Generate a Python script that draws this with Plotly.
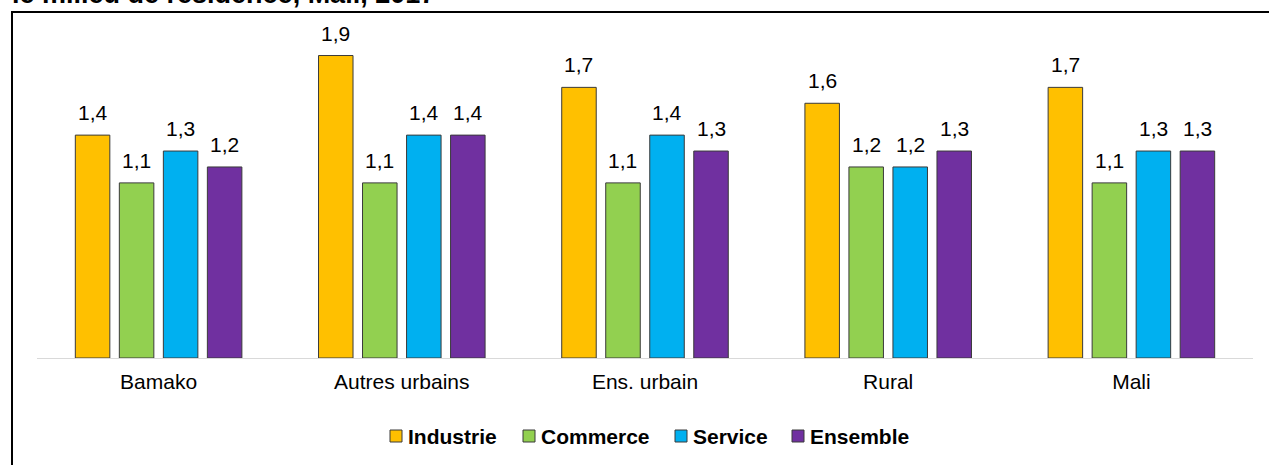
import plotly.graph_objects as go

# Data
categories = ["Bamako", "Autres urbains", "Ens. urbain", "Rural", "Mali"]
series_names = ["Industrie", "Commerce", "Service", "Ensemble"]
industrie = [1.4, 1.9, 1.7, 1.6, 1.7]
commerce = [1.1, 1.1, 1.1, 1.2, 1.1]
service = [1.3, 1.4, 1.4, 1.2, 1.3]
ensemble = [1.2, 1.4, 1.3, 1.3, 1.3]
title_text = "le milieu de résidence, Mali, 2017"

series_values = [industrie, commerce, service, ensemble]
colors = ["#FFC000", "#92D050", "#00B0F0", "#7030A0"]
outline = "#3A3A3A"
FONT = "Liberation Sans, Arial, sans-serif"

# Canvas and plot-area geometry (pixels)
W, H = 1269, 465
L, R, T, B = 37, 1253, 20, 358
PX_PER_UNIT = 159.2
BARGAP = 0.276
GROUPGAP = 0.216


def px_x(p):
    return (p - L) / (R - L)


def px_y(p):
    return (B - p) / (B - T)


fig = go.Figure()
for name, vals, col in zip(series_names, series_values, colors):
    fig.add_trace(go.Bar(
        x=categories, y=vals, name=name,
        marker=dict(color=col, line=dict(color=outline, width=1)),
        showlegend=False, hoverinfo="x+y+name",
    ))

# Value labels above each bar
slot = (R - L) / len(categories) * (1 - BARGAP) / len(series_names)
annotations = []
for i, vals in enumerate(series_values):
    offset = (i - (len(series_names) - 1) / 2) * slot
    for cat, v in zip(categories, vals):
        annotations.append(dict(
            x=cat, y=v, xref="x", yref="y", xshift=offset, yshift=9,
            text=f"{v:.1f}".replace(".", ","), showarrow=False,
            xanchor="center", yanchor="bottom",
            font=dict(family=FONT, size=21, color="#000000"),
        ))

# Title line at the top edge
annotations.append(dict(
    x=px_x(10), y=px_y(11), xref="paper", yref="paper",
    text=f"<b>{title_text}</b>", showarrow=False,
    xanchor="left", yanchor="bottom",
    font=dict(family=FONT, size=27, color="#000000"),
))

# Legend: swatch + bold label
shapes = []
legend_x = [390, 523, 675, 792]
legend_y = 436
for name, col, lx in zip(series_names, colors, legend_x):
    shapes.append(dict(
        type="rect", xref="paper", yref="paper",
        x0=px_x(lx), x1=px_x(lx + 12), y0=px_y(legend_y + 6), y1=px_y(legend_y - 6),
        fillcolor=col, line=dict(color=outline, width=1),
    ))
    annotations.append(dict(
        x=px_x(lx + 16), y=px_y(legend_y), xref="paper", yref="paper",
        text=f"<b>{name}</b>", showarrow=False,
        xanchor="left", yanchor="middle",
        font=dict(family=FONT, size=21, color="#000000"),
    ))

# Chart frame
shapes.append(dict(
    type="rect", xref="paper", yref="paper",
    x0=px_x(12), x1=px_x(1300), y0=px_y(520), y1=px_y(12),
    line=dict(color="#000000", width=2), fillcolor="rgba(0,0,0,0)", layer="below",
))

fig.update_layout(
    width=W, height=H,
    margin=dict(l=L, r=W - R, t=T, b=H - B, pad=0),
    paper_bgcolor="#FFFFFF", plot_bgcolor="#FFFFFF",
    barmode="group", bargap=BARGAP, bargroupgap=GROUPGAP,
    showlegend=False,
    xaxis=dict(
        type="category", showline=True, linecolor="#D9D9D9", linewidth=1,
        ticks="", showgrid=False, zeroline=False, ticklabelstandoff=5,
        tickfont=dict(family=FONT, size=21, color="#000000"),
    ),
    yaxis=dict(
        range=[0, (B - T) / PX_PER_UNIT], visible=False,
        showgrid=False, zeroline=False,
    ),
    annotations=annotations,
    shapes=shapes,
    font=dict(family=FONT),
)

fig.write_html("out.html")
